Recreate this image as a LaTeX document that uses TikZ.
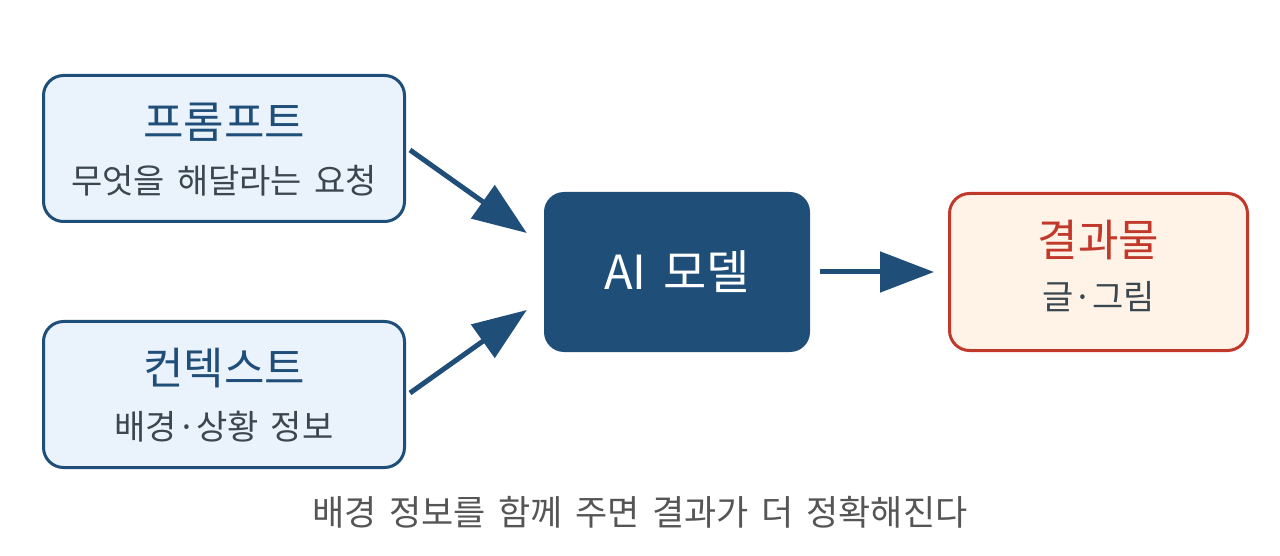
\documentclass[tikz,border=0pt]{standalone}
\usepackage{fontspec}
\usepackage{xcolor}
\usepackage{tikz}
\usetikzlibrary{arrows.meta,positioning}
\setmainfont[WordSpace=1.6]{Noto Sans CJK KR}

\definecolor{navy}{HTML}{1F4E79}
\definecolor{paleblue}{HTML}{EAF2FB}
\definecolor{brick}{HTML}{C0392B}
\definecolor{cream}{HTML}{FEF3E6}
\definecolor{slate}{HTML}{3A4750}
\definecolor{capgray}{HTML}{555555}

\begin{document}
\begin{tikzpicture}[x=1pt, y=1pt,
		inbox/.style={draw=navy, fill=paleblue, line width=3pt, rounded corners=20pt, minimum width=361pt, minimum height=146pt},
		outbox/.style={draw=brick, fill=cream, line width=3pt, rounded corners=20pt, minimum width=298pt, minimum height=157pt},
		modelbox/.style={fill=navy, rounded corners=20pt, minimum width=266pt, minimum height=160pt},
		title/.style={font=\fontsize{44}{48}\selectfont},
		sub/.style={text=slate, font=\fontsize{34}{38}\selectfont},
		flow/.style={draw=navy, line width=5pt, -{Triangle[length=54pt,width=40pt]}}]
	\useasboundingbox (0,0) rectangle (1280,555);
	
	\node[inbox] (prompt) at (224,406.5) {};
	\node[inbox] (context) at (224,160.5) {};
	\node[modelbox] (ai) at (677,283) {};
	\node[outbox] (result) at (1098.5,283) {};
	
	\node[title, text=navy] (promptT) at ([yshift=26pt]prompt.center) {프롬프트};
	\node[sub] (promptS) at ([yshift=-32pt]prompt.center) {무엇을 해달라는 요청};
	\node[title, text=navy] (contextT) at ([yshift=26pt]context.center) {컨텍스트};
	\node[sub] (contextS) at ([yshift=-32pt]context.center) {배경·상황 정보};
	\node[text=white, font=\fontsize{47}{50}\selectfont] (aiT) at (ai.center) {AI 모델};
	\node[title, text=brick] (resultT) at ([yshift=32pt]result.center) {결과물};
	\node[sub] (resultS) at ([yshift=-25pt]result.center) {글·그림};
	
	\draw[flow] ([xshift=4pt,yshift=-1.5pt]prompt.east) -- ([xshift=-17pt,yshift=39pt]ai.west);
	\draw[flow] ([xshift=4pt,yshift=1.5pt]context.east) -- ([xshift=-17pt,yshift=-38pt]ai.west);
	\draw[flow] ([xshift=10pt]ai.east) -- ([xshift=-14pt]result.west);
	
	\node[text=capgray, font=\fontsize{35}{38}\selectfont] (caption) at (640,43) {배경 정보를 함께 주면 결과가 더 정확해진다};
\end{tikzpicture}
\end{document}
